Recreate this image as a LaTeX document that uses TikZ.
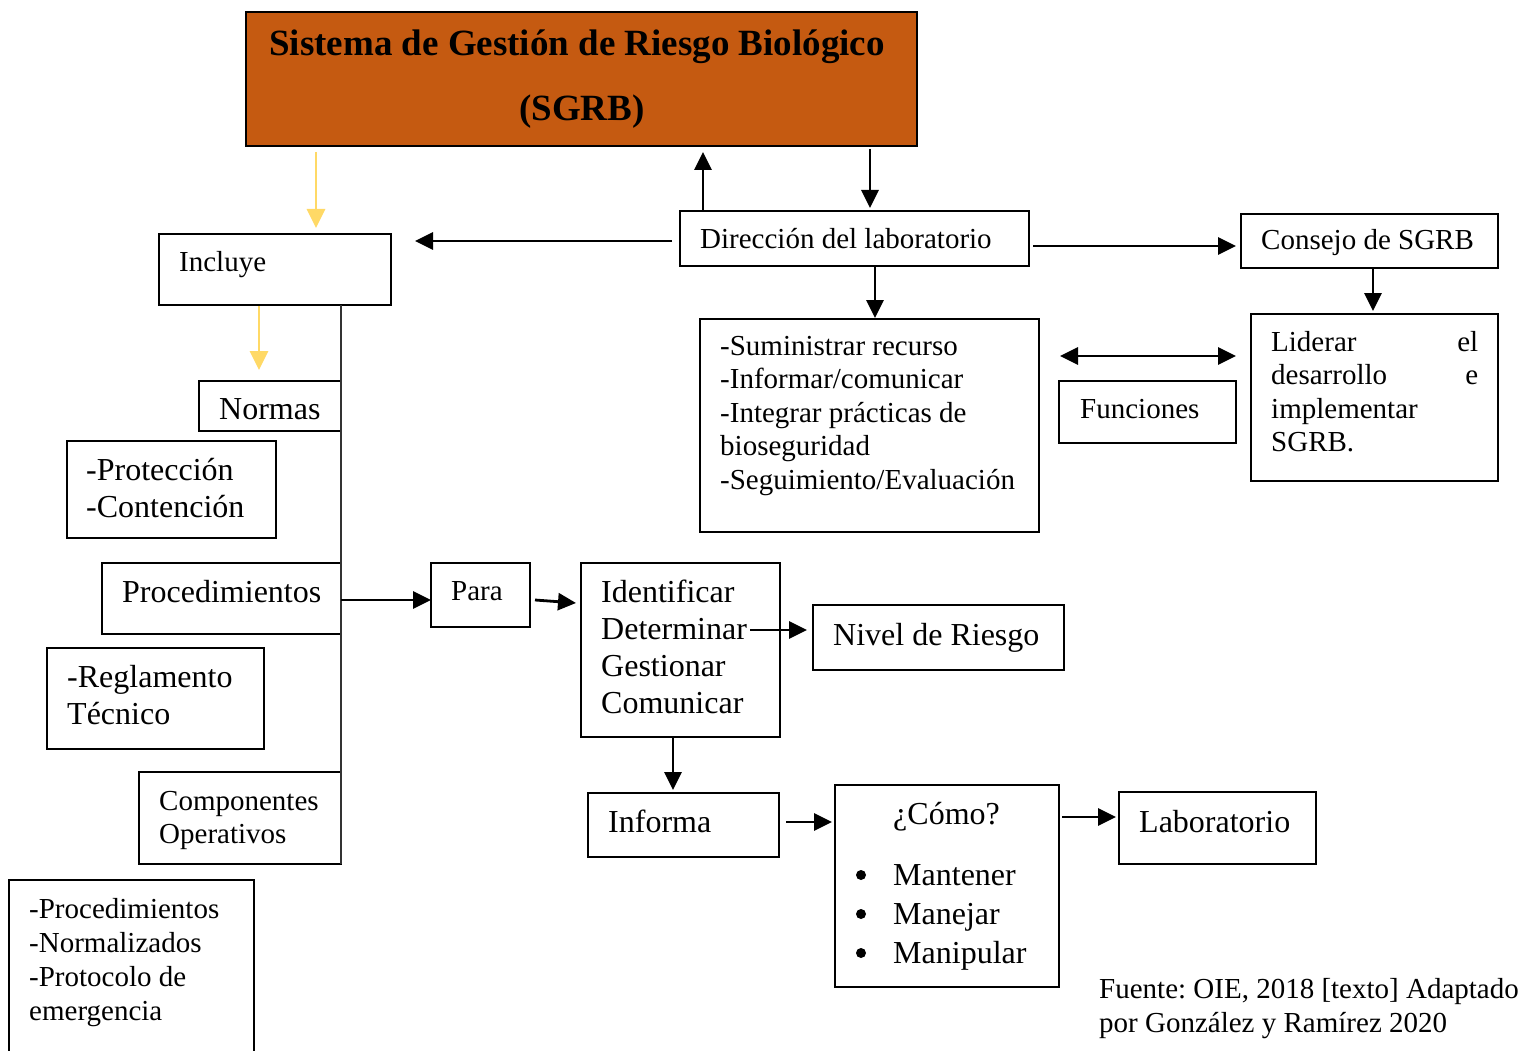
\documentclass[tikz,border=0pt]{standalone}
\usepackage{fontspec}
\setmainfont{Liberation Serif}
\usetikzlibrary{arrows.meta,calc}
\frenchspacing

\definecolor{rustfill}{HTML}{C55A11}
\definecolor{goldline}{HTML}{FFD966}

\tikzset{
  box/.style={draw=black, line width=1.3pt, inner sep=0pt, outer sep=0pt, anchor=north west},
  small/.style={inner sep=0pt, anchor=base west, font=\fontsize{29}{33.5}\selectfont},
  large/.style={inner sep=0pt, anchor=base west, font=\fontsize{32}{37}\selectfont},
  dot/.style={circle, fill=black, inner sep=0pt, minimum size=10pt},
  tip/.tip={Triangle[length=18pt,width=17pt]},
  conn/.style={line width=2.8pt, -tip},
  both/.style={line width=2.8pt, tip-tip},
  goldarrow/.style={draw=goldline, line width=2.8pt, -{Triangle[length=19pt,width=18pt]}},
  trunk/.style={draw=black!80, line width=1.4pt},
}

% box: name, x, y (top-left), width, height
\newcommand{\bx}[5]{\node[box, minimum width=#4pt, minimum height=#5pt] (#1) at (#2,#3) {};}
% stacked lines, first baseline on the node's base
\newcommand{\stack}[1]{\begin{tabular}[t]{@{}l@{}}#1\end{tabular}}

\begin{document}
\begin{tikzpicture}[x=1pt, y=-1pt]
\useasboundingbox (0,0) rectangle (1526,1051);

% ---- boxes ----
\node[box, fill=rustfill, minimum width=671pt, minimum height=134pt] (title) at (246,12) {};
\bx{dir}{680}{211}{349}{55}
\bx{consejo}{1241}{214}{257}{54}
\bx{incluye}{159}{234}{232}{71}
\bx{sum}{700}{319}{339}{213}
\bx{liderar}{1251}{314}{247}{167}
\bx{funciones}{1059}{381}{177}{62}
\bx{normas}{199}{381}{142}{50}
\bx{proteccion}{67}{441}{209}{97}
\bx{proc}{102}{563}{239}{71}
\bx{para}{431}{563}{99}{64}
\bx{ident}{581}{563}{199}{174}
\bx{nivel}{813}{605}{251}{65}
\bx{regl}{47}{648}{217}{101}
\bx{comp}{139}{772}{202}{92}
\bx{protoc}{9}{880}{245}{200}
\bx{informa}{588}{793}{191}{64}
\bx{como}{835}{785}{224}{202}
\bx{lab}{1119}{792}{197}{72}

% ---- texts ----
\node[inner sep=0pt, anchor=base, font=\fontsize{37}{44}\selectfont\bfseries] (title-a) at (577,56) {Sistema de Gestión de Riesgo Biológico};
\node[inner sep=0pt, anchor=base, font=\fontsize{37}{44}\selectfont\bfseries] (title-b) at (582,121) {(SGRB)};

\node[small] (dir-t) at (700,248) {Dirección del laboratorio};
\node[small] (consejo-t) at (1261,250) {Consejo de SGRB};
\node[small] (incluye-t) at (179,271) {Incluye};
\node[small] (sum-t) at (720,355) {\stack{-Suministrar recurso\\-Informar/comunicar\\-Integrar prácticas de\\bioseguridad\\-Seguimiento/Evaluación}};
\node[small] (liderar-t) at (1271,351) {\stack{\makebox[207pt]{Liderar\hfill el}\\\makebox[207pt]{desarrollo\hfill e}\\implementar\\SGRB.}};
\node[small] (funciones-t) at (1080,418) {Funciones};
\node[large] (normas-t) at (219,419) {Normas};
\node[large] (proteccion-t) at (86,480) {\stack{-Protección\\-Contención}};
\node[large] (proc-t) at (122,602) {Procedimientos};
\node[small] (para-t) at (451,600) {Para};
\node[large] (ident-t) at (601,602) {\stack{Identificar\\Determinar\\Gestionar\\Comunicar}};
\node[large] (nivel-t) at (833,645) {Nivel de Riesgo};
\node[large] (regl-t) at (67,687) {\stack{-Reglamento\\Técnico}};
\node[small, font=\fontsize{29}{33}\selectfont] (comp-t) at (159,810) {\stack{Componentes\\Operativos}};
\node[small, font=\fontsize{29}{34}\selectfont] (protoc-t) at (29,918) {\stack{-Procedimientos\\-Normalizados\\-Protocolo de\\emergencia}};
\node[large] (informa-t) at (608,832) {Informa};
\node[large] (como-t) at (893,824) {¿Cómo?};
\node[large, font=\fontsize{32}{39}\selectfont] (como-l) at (893,885) {\stack{Mantener\\Manejar\\Manipular}};
\node[dot] (dot-a) at (861,875) {};
\node[dot] (dot-b) at (861,914) {};
\node[dot] (dot-c) at (861,953) {};
\node[large] (lab-t) at (1139,832) {Laboratorio};
\node[small, font=\fontsize{29}{34}\selectfont] (fuente) at (1099,998) {\stack{Fuente: OIE, 2018 [texto] Adaptado\\por González y Ramírez 2020}};

% ---- trunk line joining the items under "Incluye" ----
\draw[trunk] (incluye.south -| comp.east) -- (comp.south east);

% ---- connectors ----
\draw[goldarrow] ($(title.south west)+(70,6)$) -- ($(incluye.north west)+(157,-6)$);
\draw[goldarrow] ($(incluye.south west)+(100,1)$) -- ($(normas.north west)+(60,-11)$);

\draw[conn] ($(dir.north west)+(23,0)$) -- ($(title.south west)+(457,6)$);
\draw[conn] ($(title.south west)+(624,3)$) -- ($(dir.north west)+(190,-3)$);
\draw[conn] ($(dir.north west)+(-8,30)$) -- ($(incluye.north east)+(24,7)$);
\draw[conn] ($(dir.north east)+(4,35)$) -- ($(consejo.north west)+(-5,32)$);
\draw[conn] ($(dir.south west)+(195,0)$) -- ($(sum.north west)+(175,-1)$);
\draw[conn] ($(consejo.south west)+(132,0)$) -- ($(liderar.north west)+(122,-3)$);
\draw[both] ($(funciones.north west)+(1,-25)$) -- ($(funciones.north east)+(0,-25)$);

\draw[conn] ($(proc.north east)+(0,37)$) -- ($(para.north west)+(0,37)$);
\draw[conn] ($(para.north east)+(5,37)$) -- ($(ident.north west)+(-5,40)$);
\draw[conn] ($(ident.north west)+(169,67)$) -- ($(nivel.north west)+(-6,25)$);
\draw[conn] ($(ident.south west)+(92,0)$) -- ($(informa.north west)+(85,-3)$);
\draw[conn] ($(informa.north east)+(7,29)$) -- ($(como.north west)+(-3,37)$);
\draw[conn] ($(como.north east)+(3,32)$) -- ($(lab.north west)+(-3,25)$);
\end{tikzpicture}
\end{document}
